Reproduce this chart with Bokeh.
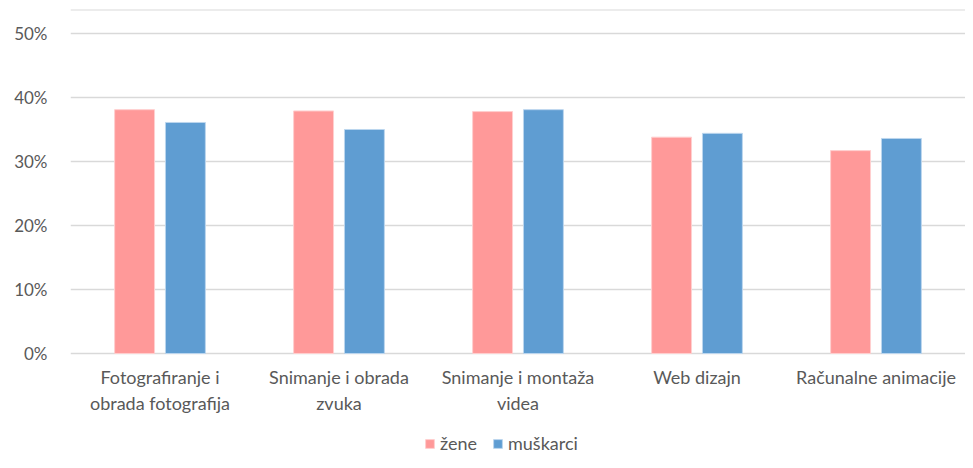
from bokeh.plotting import figure
from bokeh.models import FactorRange, Legend, LegendItem, Span, FixedTicker, NumeralTickFormatter, ColumnDataSource
from bokeh.core.properties import value
from bokeh.transform import dodge
from bokeh.embed import file_html
from bokeh.resources import INLINE

categories = ["Fotografiranje i obrada fotografija", "Snimanje i obrada zvuka",
              "Snimanje i montaža videa", "Web dizajn", "Računalne animacije"]
label_line1 = ["Fotografiranje i", "Snimanje i obrada", "Snimanje i montaža", "Web dizajn", "Računalne animacije"]
label_line2 = ["obrada fotografija", "zvuka", "videa", "", ""]
zene = [0.381, 0.379, 0.378, 0.338, 0.317]
muskarci = [0.361, 0.350, 0.381, 0.344, 0.336]
series_names = ["žene", "muškarci"]
colors = ["#FF9999", "#5F9DD2"]
y_ticks = [0, 0.1, 0.2, 0.3, 0.4, 0.5]

FONT = "Lato"
TXT = "#595959"
Y_TOP = 0.5375
Y_BOTTOM = -0.1672

src = ColumnDataSource(dict(cat=categories, zene=zene, muskarci=muskarci,
                            l1=label_line1, l2=label_line2))

p = figure(x_range=FactorRange(*categories), y_range=(Y_BOTTOM, Y_TOP),
           width=965, height=460, output_backend="svg", toolbar_location=None,
           min_border_left=70, min_border_right=0, min_border_top=9, min_border_bottom=0)
p.outline_line_color = None

r1 = p.vbar(x=dodge("cat", -0.142, range=p.x_range), top="zene", bottom=0, width=0.223, source=src,
            fill_color=colors[0], line_color="#FFCFCF", line_width=1)
r2 = p.vbar(x=dodge("cat", 0.142, range=p.x_range), top="muskarci", bottom=0, width=0.223, source=src,
            fill_color=colors[1], line_color="#BCD6EE", line_width=1)

p.add_layout(Span(location=Y_TOP, dimension="width", line_color="#D9D9D9", line_width=2))

# category labels (two lines)
p.text(x="cat", y=-0.0375, text="l1", source=src, text_align="center", text_baseline="middle",
       text_font=value(FONT), text_font_size="18px", text_color=TXT)
p.text(x="cat", y=-0.078, text="l2", source=src, text_align="center", text_baseline="middle",
       text_font=value(FONT), text_font_size="18px", text_color=TXT)

p.yaxis.ticker = FixedTicker(ticks=y_ticks)
p.yaxis.formatter = NumeralTickFormatter(format="0%")
p.yaxis.axis_line_color = None
p.yaxis.major_tick_line_color = None
p.yaxis.minor_tick_line_color = None
p.yaxis.major_label_text_font = FONT
p.yaxis.major_label_text_font_size = "17px"
p.yaxis.major_label_text_color = TXT
p.yaxis.major_label_standoff = 17

p.ygrid.ticker = FixedTicker(ticks=y_ticks)
p.ygrid.grid_line_color = "#D9D9D9"
p.ygrid.grid_line_width = 1.5
p.xgrid.grid_line_color = None
p.xaxis.visible = False

legend = Legend(items=[LegendItem(label=series_names[0], renderers=[r1]),
                       LegendItem(label=series_names[1], renderers=[r2])],
                orientation="horizontal", location=(354, 6),
                label_text_font=FONT, label_text_font_size="18px", label_text_color=TXT,
                glyph_width=11, glyph_height=11, spacing=15, label_standoff=5,
                label_height=11,
                border_line_color=None, background_fill_alpha=0, margin=0, padding=0)
p.add_layout(legend)

open("out.html", "w").write(file_html(p, INLINE))
